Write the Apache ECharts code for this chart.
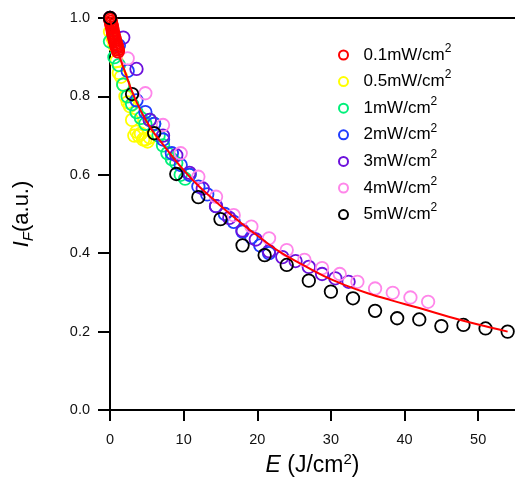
<!DOCTYPE html>
<html>
<head>
<meta charset="utf-8">
<script src="https://cdn.jsdelivr.net/npm/echarts@6/dist/echarts.min.js"></script>
<style>html,body{margin:0;padding:0;background:#fff}#c{width:515px;height:492px}</style>
</head>
<body>
<div id="c"></div>
<script>
// ---- data ----
const seriesNames = ['0.1mW/cm²','0.5mW/cm²','1mW/cm²','2mW/cm²','3mW/cm²','4mW/cm²','5mW/cm²'];
const seriesColors = ['#ff0000','#ffff00','#00f07a','#1f3cff','#6c10dc','#ff86ea','#000000'];
const seriesZ = [8, 2, 3, 4, 5, 6, 9];

const redE    = [0,0.06,0.12,0.18,0.24,0.3,0.36,0.42,0.48,0.54,0.6,0.66,0.72,0.78,0.84,0.9,0.96,1.02,1.08];
const redI    = [1.0,0.995,0.99,0.985,0.98,0.975,0.968,0.962,0.957,0.952,0.948,0.944,0.94,0.936,0.932,0.928,0.924,0.92,0.915];

const yellowE = [0,0.3,0.6,0.9,1.2,1.5,1.8,2.1,2.4,2.7,3.0,3.3,3.6,3.9,4.2,4.5,4.8,5.1,5.4];
const yellowI = [0.965,0.95,0.93,0.89,0.86,0.85,0.83,0.80,0.785,0.775,0.74,0.70,0.71,0.70,0.705,0.69,0.69,0.685,0.695];

const greenE  = [0,0.6,1.2,1.8,2.4,3.0,3.6,4.2,4.8,5.4,6.0,6.6,7.2,7.8,8.4,9.0,9.6,10.2,10.8];
const greenI  = [0.94,0.90,0.88,0.83,0.80,0.78,0.76,0.745,0.73,0.74,0.73,0.70,0.675,0.655,0.64,0.63,0.60,0.59,0.60];

const blueE   = [0,1.2,2.4,3.6,4.8,6.0,7.2,8.4,9.6,10.8,12.0,13.2,14.4,15.6,16.8,18.0,19.2,20.4,21.6];
const blueI   = [1.0,0.93,0.865,0.79,0.76,0.73,0.69,0.655,0.625,0.60,0.57,0.55,0.52,0.50,0.48,0.455,0.44,0.42,0.40];

const purpleE = [0,1.8,3.6,5.4,7.2,9.0,10.8,12.6,14.4,16.2,18.0,19.8,21.6,23.4,25.2,27.0,28.8,30.6,32.4];
const purpleI = [1.0,0.95,0.87,0.74,0.70,0.65,0.605,0.565,0.52,0.49,0.458,0.435,0.405,0.39,0.38,0.365,0.347,0.336,0.327];

const pinkE   = [0,2.4,4.8,7.2,9.6,12.0,14.4,16.8,19.2,21.6,24.0,26.4,28.8,31.2,33.6,36.0,38.4,40.8,43.2];
const pinkI   = [1.0,0.897,0.808,0.727,0.655,0.595,0.544,0.497,0.468,0.438,0.408,0.383,0.362,0.347,0.327,0.31,0.299,0.287,0.276];

const blackE  = [0,3,6,9,12,15,18,21,24,27,30,33,36,39,42,45,48,51,54];
const blackI  = [1.0,0.806,0.706,0.602,0.543,0.487,0.42,0.395,0.37,0.33,0.302,0.285,0.253,0.234,0.231,0.214,0.217,0.208,0.2];

const fitE = [0,0.5,1,1.5,2,3,4,5,6,7,8,10,12,14,16,18,20,23,26,29,32,35,38,42,46,50,54];
const fitI = [1.0,0.955,0.92,0.89,0.865,0.812,0.77,0.735,0.706,0.682,0.658,0.612,0.572,0.538,0.505,0.474,0.445,0.404,0.372,0.342,0.318,0.298,0.281,0.26,0.238,0.218,0.2];

const xTicks = [0,10,20,30,40,50];
const yTicks = ['0.0','0.2','0.4','0.6','0.8','1.0'];

// ---- chart ----
const FONT = 'Liberation Sans, Arial, sans-serif';
const pairs = (xs, ys) => xs.map((x, i) => [x, ys[i]]);
const scatterData = [
  pairs(redE, redI), pairs(yellowE, yellowI), pairs(greenE, greenI),
  pairs(blueE, blueI), pairs(purpleE, purpleI), pairs(pinkE, pinkI), pairs(blackE, blackI)
];

const series = seriesNames.map((name, k) => ({
  name: name,
  type: 'scatter',
  symbol: 'circle',
  symbolSize: 12.5,
  itemStyle: { color: 'transparent', borderColor: seriesColors[k], borderWidth: 1.8, opacity: 1 },
  emphasis: { disabled: true },
  data: scatterData[k],
  z: seriesZ[k]
}));
series.push({
  name: 'fit',
  type: 'line',
  smooth: 0.4,
  showSymbol: false,
  symbol: 'none',
  lineStyle: { color: '#ff0000', width: 2 },
  data: pairs(fitE, fitI),
  z: 20
});

const chart = echarts.init(document.getElementById('c'), null, { renderer: 'canvas' });
chart.setOption({
  animation: false,
  backgroundColor: '#ffffff',
  grid: { left: 110, right: 0, top: 18, bottom: 82, containLabel: false },
  legend: {
    orient: 'vertical',
    left: 338,
    top: 42.5,
    padding: 0,
    itemWidth: 30,
    itemHeight: 9,
    itemGap: 5.6,
    selectedMode: false,
    data: seriesNames.map((n, k) => ({
      name: n, icon: 'circle',
      itemStyle: { color: 'transparent', borderColor: seriesColors[k], borderWidth: 2 }
    })),
    formatter: n => '{t|' + n.replace('²', '') + '}{s|2}',
    textStyle: {
      fontFamily: FONT,
      rich: {
        t: { fontSize: 17, lineHeight: 25, color: '#000', fontFamily: FONT },
        s: { fontSize: 12, lineHeight: 8, verticalAlign: 'top', color: '#000', fontFamily: FONT }
      }
    }
  },
  xAxis: [{
    type: 'value',
    min: 0, max: 55, interval: 10,
    position: 'bottom',
    axisLine: { show: true, onZero: false, lineStyle: { color: '#000', width: 2 } },
    axisTick: { show: true, length: 11, lineStyle: { color: '#000', width: 2 } },
    splitLine: { show: false },
    axisLabel: {
      showMaxLabel: false, margin: 22,
      fontSize: 14.5, color: '#111', fontFamily: FONT,
      formatter: v => (xTicks.indexOf(v) >= 0 ? String(v) : '')
    },
    name: '{e|E}{n| (J/cm}{s|2}{n|)}',
    nameLocation: 'middle',
    nameGap: 40,
    nameTextStyle: {
      fontFamily: FONT,
      rich: {
        e: { fontSize: 23, fontStyle: 'italic', lineHeight: 28, color: '#000', fontFamily: FONT },
        n: { fontSize: 23, lineHeight: 28, color: '#000', fontFamily: FONT },
        s: { fontSize: 15, lineHeight: 10, verticalAlign: 'top', color: '#000', fontFamily: FONT }
      }
    }
  }, {
    type: 'value',
    min: 0, max: 55,
    position: 'top',
    axisLine: { show: true, onZero: false, lineStyle: { color: '#000', width: 2 } },
    axisTick: { show: false },
    axisLabel: { show: false },
    splitLine: { show: false }
  }],
  yAxis: {
    type: 'value',
    min: 0, max: 1, interval: 0.2,
    axisLine: { show: true, onZero: false, lineStyle: { color: '#000', width: 2 } },
    axisTick: { show: true, length: 12, lineStyle: { color: '#000', width: 2 } },
    splitLine: { show: false },
    axisLabel: {
      margin: 20, fontSize: 14.5, color: '#111', fontFamily: FONT,
      formatter: v => yTicks[Math.round(v / 0.2)]
    },
    name: '{i|I}{f|F}{n|(a.u.)}',
    nameLocation: 'middle',
    nameRotate: 90,
    nameGap: 74,
    nameTextStyle: {
      fontFamily: FONT,
      rich: {
        i: { fontSize: 22, fontStyle: 'italic', lineHeight: 28, color: '#000', fontFamily: FONT },
        f: { fontSize: 15, fontStyle: 'italic', lineHeight: 8, verticalAlign: 'bottom', color: '#000', fontFamily: FONT },
        n: { fontSize: 22, lineHeight: 28, color: '#000', fontFamily: FONT }
      }
    }
  },
  series: series
});
</script>
</body>
</html>
